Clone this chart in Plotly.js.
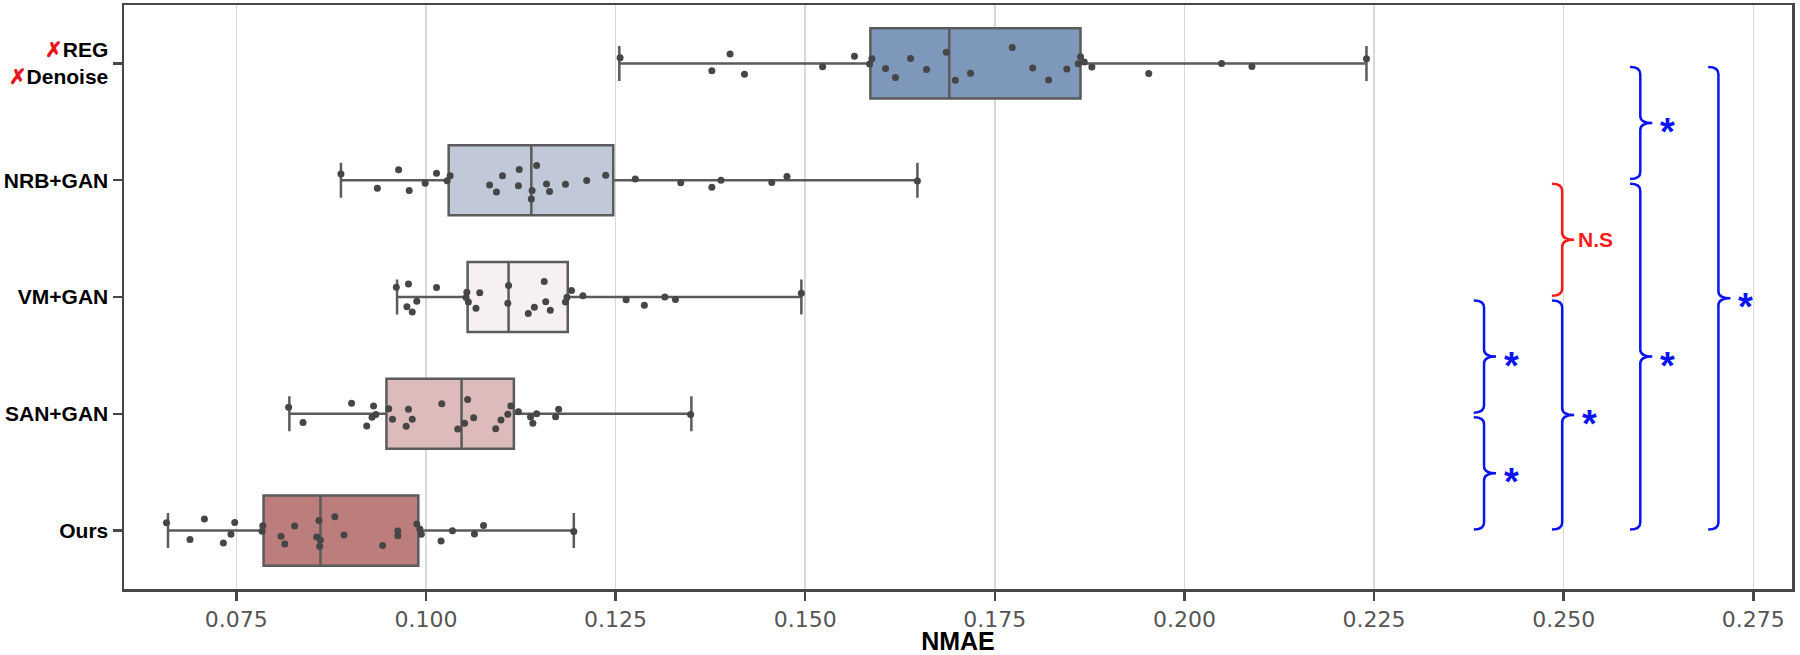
<!DOCTYPE html>
<html>
<head>
<meta charset="utf-8">
<script src="https://cdn.plot.ly/plotly-3.0.1.min.js"></script>
<style>
  body { margin: 0; background: #fff; }
  #myPlot { width: 1800px; height: 655px; }
</style>
</head>
<body>
<div id="myPlot"></div>
<script>
// methods, listed top to bottom as in the figure
var methods = ['REG', 'NRB+GAN', 'VM+GAN', 'SAN+GAN', 'Ours'];
var methodLabels = [
  '<span style="color:#e8161b">✗</span>REG<br><span style="color:#e8161b">✗</span>Denoise',
  'NRB+GAN', 'VM+GAN', 'SAN+GAN', 'Ours'
];
var boxColors = ['#7e98bc', '#c1c9d9', '#f6f1f0', '#dcbbba', '#bb7e7c'];

// box statistics (whiskers run to min / max)
var boxMin    = [0.1255, 0.0888, 0.0962, 0.0820, 0.0660];
var boxQ1     = [0.1586, 0.1030, 0.1055, 0.0948, 0.0786];
var boxMedian = [0.1690, 0.1139, 0.1109, 0.1047, 0.0861];
var boxQ3     = [0.1863, 0.1247, 0.1187, 0.1116, 0.0990];
var boxMax    = [0.2240, 0.1648, 0.1495, 0.1350, 0.1195];

// per-image NMAE values (strip points)
var regPts = [0.1256, 0.1377, 0.1401, 0.1420, 0.1523, 0.1565, 0.1585, 0.1588, 0.1606,
  0.1619, 0.1639, 0.1660, 0.1686, 0.1698, 0.1718, 0.1773, 0.1800, 0.1821, 0.1845,
  0.1860, 0.1863, 0.1868, 0.1878, 0.1953, 0.2049, 0.2089, 0.2240];
var nrbPts = [0.0888, 0.0936, 0.0964, 0.0978, 0.0999, 0.1014, 0.1028, 0.1032, 0.1084,
  0.1093, 0.1101, 0.1122, 0.1123, 0.1139, 0.1140, 0.1146, 0.1159, 0.1163, 0.1184,
  0.1212, 0.1237, 0.1276, 0.1336, 0.1377, 0.1389, 0.1456, 0.1476, 0.1648];
var vmPts = [0.0961, 0.0975, 0.0977, 0.0982, 0.0988, 0.1014, 0.1053, 0.1054, 0.1056,
  0.1066, 0.1071, 0.1108, 0.1109, 0.1135, 0.1143, 0.1156, 0.1158, 0.1164, 0.1184,
  0.1186, 0.1192, 0.1207, 0.1264, 0.1288, 0.1315, 0.1329, 0.1495];
var sanPts = [0.0819, 0.0838, 0.0902, 0.0922, 0.0929, 0.0931, 0.0934, 0.0951, 0.0956,
  0.0974, 0.0977, 0.0982, 0.1021, 0.1042, 0.1051, 0.1055, 0.1063, 0.1092, 0.1099,
  0.1108, 0.1112, 0.1122, 0.1138, 0.1141, 0.1146, 0.1171, 0.1175, 0.1349];
var oursPts = [0.0658, 0.0689, 0.0708, 0.0733, 0.0743, 0.0748, 0.0784, 0.0785, 0.0809,
  0.0814, 0.0827, 0.0856, 0.0859, 0.0860, 0.0861, 0.0880, 0.0892, 0.0943, 0.0963,
  0.0963, 0.0988, 0.0992, 0.0994, 0.1020, 0.1035, 0.1064, 0.1076, 0.1195];
var points = [regPts, nrbPts, vmPts, sanPts, oursPts];

// significance brackets: upper method, lower method, column, label
var brUpper = ['VM+GAN', 'SAN+GAN', 'NRB+GAN', 'VM+GAN', 'REG', 'NRB+GAN', 'REG'];
var brLower = ['SAN+GAN', 'Ours', 'VM+GAN', 'Ours', 'NRB+GAN', 'Ours', 'Ours'];
var brCol   = [0, 0, 1, 1, 2, 2, 3];
var brLabel = ['*', '*', 'N.S', '*', '*', '*', '*'];
var brColX  = [0.2395, 0.2498, 0.2601, 0.2704];

var xTicks = [0.075, 0.100, 0.125, 0.150, 0.175, 0.200, 0.225, 0.250, 0.275];

var n = methods.length;
function pos(name) { return n - 1 - methods.indexOf(name); }

var data = [];
methods.forEach(function (m, i) {
  data.push({
    type: 'box', orientation: 'h', name: m,
    y: [pos(m)],
    q1: [boxQ1[i]], median: [boxMedian[i]], q3: [boxQ3[i]],
    lowerfence: [boxMin[i]], upperfence: [boxMax[i]],
    boxpoints: false, width: 0.6, whiskerwidth: 0.5,
    fillcolor: boxColors[i],
    line: {color: '#5b5b5b', width: 2.5},
    hoverinfo: 'skip'
  });
});
methods.forEach(function (m, i) {
  data.push({
    type: 'box', orientation: 'h', name: m + ' pts',
    x: points[i], y: points[i].map(function () { return pos(m); }),
    boxpoints: 'all', jitter: 0.55, pointpos: 0, width: 0.6, whiskerwidth: 0,
    fillcolor: 'rgba(0,0,0,0)',
    line: {color: 'rgba(0,0,0,0)', width: 0},
    marker: {color: '#464646', size: 7},
    hoverinfo: 'skip'
  });
});

// curly braces as path shapes
var hw = 0.00135, tw = 0.00158, r = 0.06;
var shapes = [], annotations = [];
brUpper.forEach(function (u, k) {
  var x = brColX[brCol[k]];
  var top = pos(u) - 0.03, bot = pos(brLower[k]) + 0.01;
  var tip = (top + bot) / 2;
  var color = brLabel[k] === 'N.S' ? '#ff1a1a' : '#0a14f0';
  var p = 'M' + (x - hw) + ',' + top +
    ' Q' + x + ',' + top + ' ' + x + ',' + (top - r) +
    ' L' + x + ',' + (tip + r) +
    ' Q' + x + ',' + tip + ' ' + (x + tw) + ',' + tip +
    ' Q' + x + ',' + tip + ' ' + x + ',' + (tip - r) +
    ' L' + x + ',' + (bot + r) +
    ' Q' + x + ',' + bot + ' ' + (x - hw) + ',' + bot;
  shapes.push({type: 'path', xref: 'x', yref: 'y', path: p,
    line: {color: color, width: 2.5}});
  if (brLabel[k] === 'N.S') {
    annotations.push({x: x + tw + 0.0002, y: tip, xref: 'x', yref: 'y',
      text: 'N.S', showarrow: false, xanchor: 'left',
      font: {family: 'Liberation Sans, Arial', size: 21, color: color, weight: 'bold'}});
  } else {
    annotations.push({x: x + 0.0036, y: tip, xref: 'x', yref: 'y',
      text: '*', showarrow: false, xanchor: 'center', yshift: -9,
      font: {family: 'Liberation Sans, Arial', size: 38, color: color, weight: 'bold'}});
  }
});

var layout = {
  width: 1800, height: 655,
  margin: {l: 124, r: 8, t: 5, b: 66},
  paper_bgcolor: '#fff', plot_bgcolor: '#fff',
  showlegend: false,
  boxmode: 'overlay',
  xaxis: {
    range: [0.0602, 0.2801],
    tickvals: xTicks, tickformat: '.3f',
    showgrid: true, gridcolor: '#d9d9d9', gridwidth: 1.5,
    zeroline: false,
    showline: true, linecolor: '#474747', linewidth: 2.5, mirror: true,
    ticks: 'outside', ticklen: 9, tickwidth: 2.5, tickcolor: '#474747',
    tickfont: {family: 'DejaVu Sans', size: 22, color: '#555'},
    title: {text: 'NMAE', standoff: 4,
      font: {family: 'Liberation Sans, Arial', size: 25, color: '#000', weight: 'bold'}}
  },
  yaxis: {
    range: [-0.5, 4.5],
    tickvals: methods.map(pos), ticktext: methodLabels,
    showgrid: false, zeroline: false,
    showline: true, linecolor: '#474747', linewidth: 2.5, mirror: true,
    ticks: 'outside', ticklen: 9, tickwidth: 2.5, tickcolor: '#474747',
    tickfont: {family: 'Liberation Sans, Arial', size: 21, color: '#000', weight: 'bold'}
  },
  shapes: shapes,
  annotations: annotations
};

Plotly.newPlot('myPlot', data, layout, {displayModeBar: false, staticPlot: true});
</script>
</body>
</html>
